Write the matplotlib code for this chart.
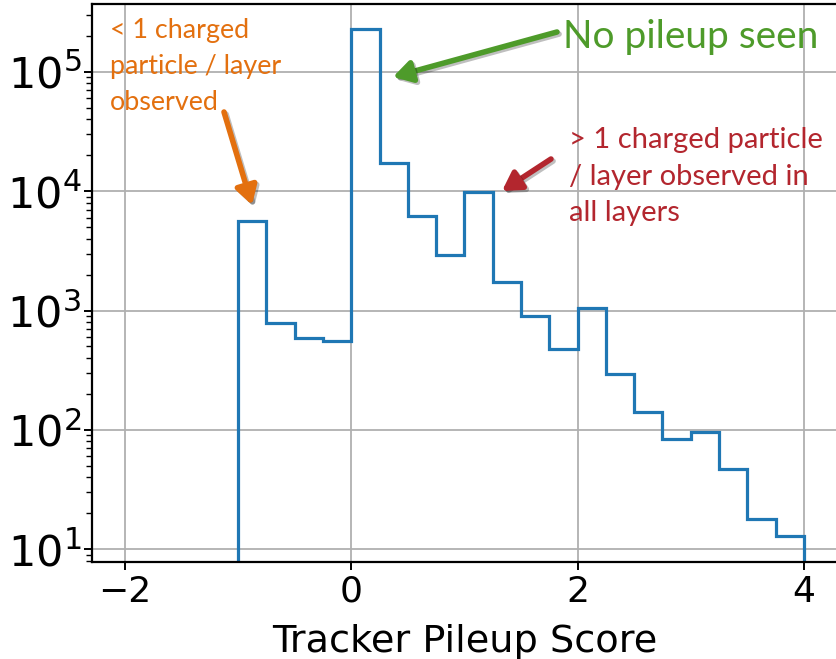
import matplotlib
matplotlib.use("Agg")
import matplotlib.pyplot as plt
import matplotlib.patheffects as pe
from matplotlib.patches import FancyArrowPatch
import numpy as np

# pileup score histogram, bins of 0.25 from -1 to 4
bin_edges = np.arange(-1.0, 4.0001, 0.25)
counts = [5600, 790, 590, 555, 228000, 17200, 6200, 2900, 9750, 1720,
          900, 476, 1060, 292, 142, 84, 96, 47, 17.8, 13.0]

x_ticks = [-2, 0, 2, 4]

W, H = 837, 659
fig = plt.figure(figsize=(W / 100, H / 100), dpi=100)
ax = fig.add_axes([0.1096, 0.1476, 0.8917, 0.8458])

ax.hist(bin_edges[:-1], bins=bin_edges, weights=counts, histtype="step",
        log=True, color="#1f77b4", linewidth=2.3)

ax.set_xlim(-2.294, 4.303)
ax.set_ylim(7.87, 3.67e5)
ax.set_xticks(x_ticks)
ax.set_xticklabels([f"{t}".replace("-", "\u2212") for t in x_ticks])
ax.grid(True, which="major", color="#b0b0b0", linewidth=1.3)
ax.set_axisbelow(True)
ax.tick_params(axis="both", which="major", length=6, width=1.4)
ax.tick_params(axis="x", labelsize=26)
ax.tick_params(axis="y", labelsize=31, pad=1.5)
ax.tick_params(axis="y", which="minor", length=4, width=1.0)
for s in ax.spines.values():
    s.set_linewidth(1.6)
ax.set_xlabel("Tracker Pileup Score", fontsize=27.5, labelpad=11)

shadow = [pe.SimpleLineShadow(offset=(1.5, -1.5), alpha=0.25), pe.Normal()]


def note(text, pos, color, size, ls):
    fig.text(pos[0] / W, 1 - pos[1] / H, text, color=color, fontsize=size,
             family="Lato", va="top", ha="left", linespacing=ls)


def arrow(tail, tip, color):
    a = FancyArrowPatch((tail[0] / W, 1 - tail[1] / H), (tip[0] / W, 1 - tip[1] / H),
                        transform=fig.transFigure,
                        arrowstyle="-|>,head_length=11,head_width=6.5",
                        color=color, linewidth=4, mutation_scale=1,
                        shrinkA=0, shrinkB=0)
    a.set_path_effects(shadow)
    fig.add_artist(a)


note("< 1 charged\nparticle / layer\nobserved", (110, 18), "#E3700F", 19.4, 1.55)
note("No pileup seen", (563, 19), "#4E9B2A", 28, 1.2)
note("> 1 charged particle\n/ layer observed in\nall layers", (569, 127), "#B3262E", 21, 1.5)

arrow((224, 112), (252, 205), "#E3700F")
arrow((557, 32), (393, 77), "#4E9B2A")
arrow((551, 159), (502, 191), "#B3262E")

fig.savefig("out.png", dpi=100)
